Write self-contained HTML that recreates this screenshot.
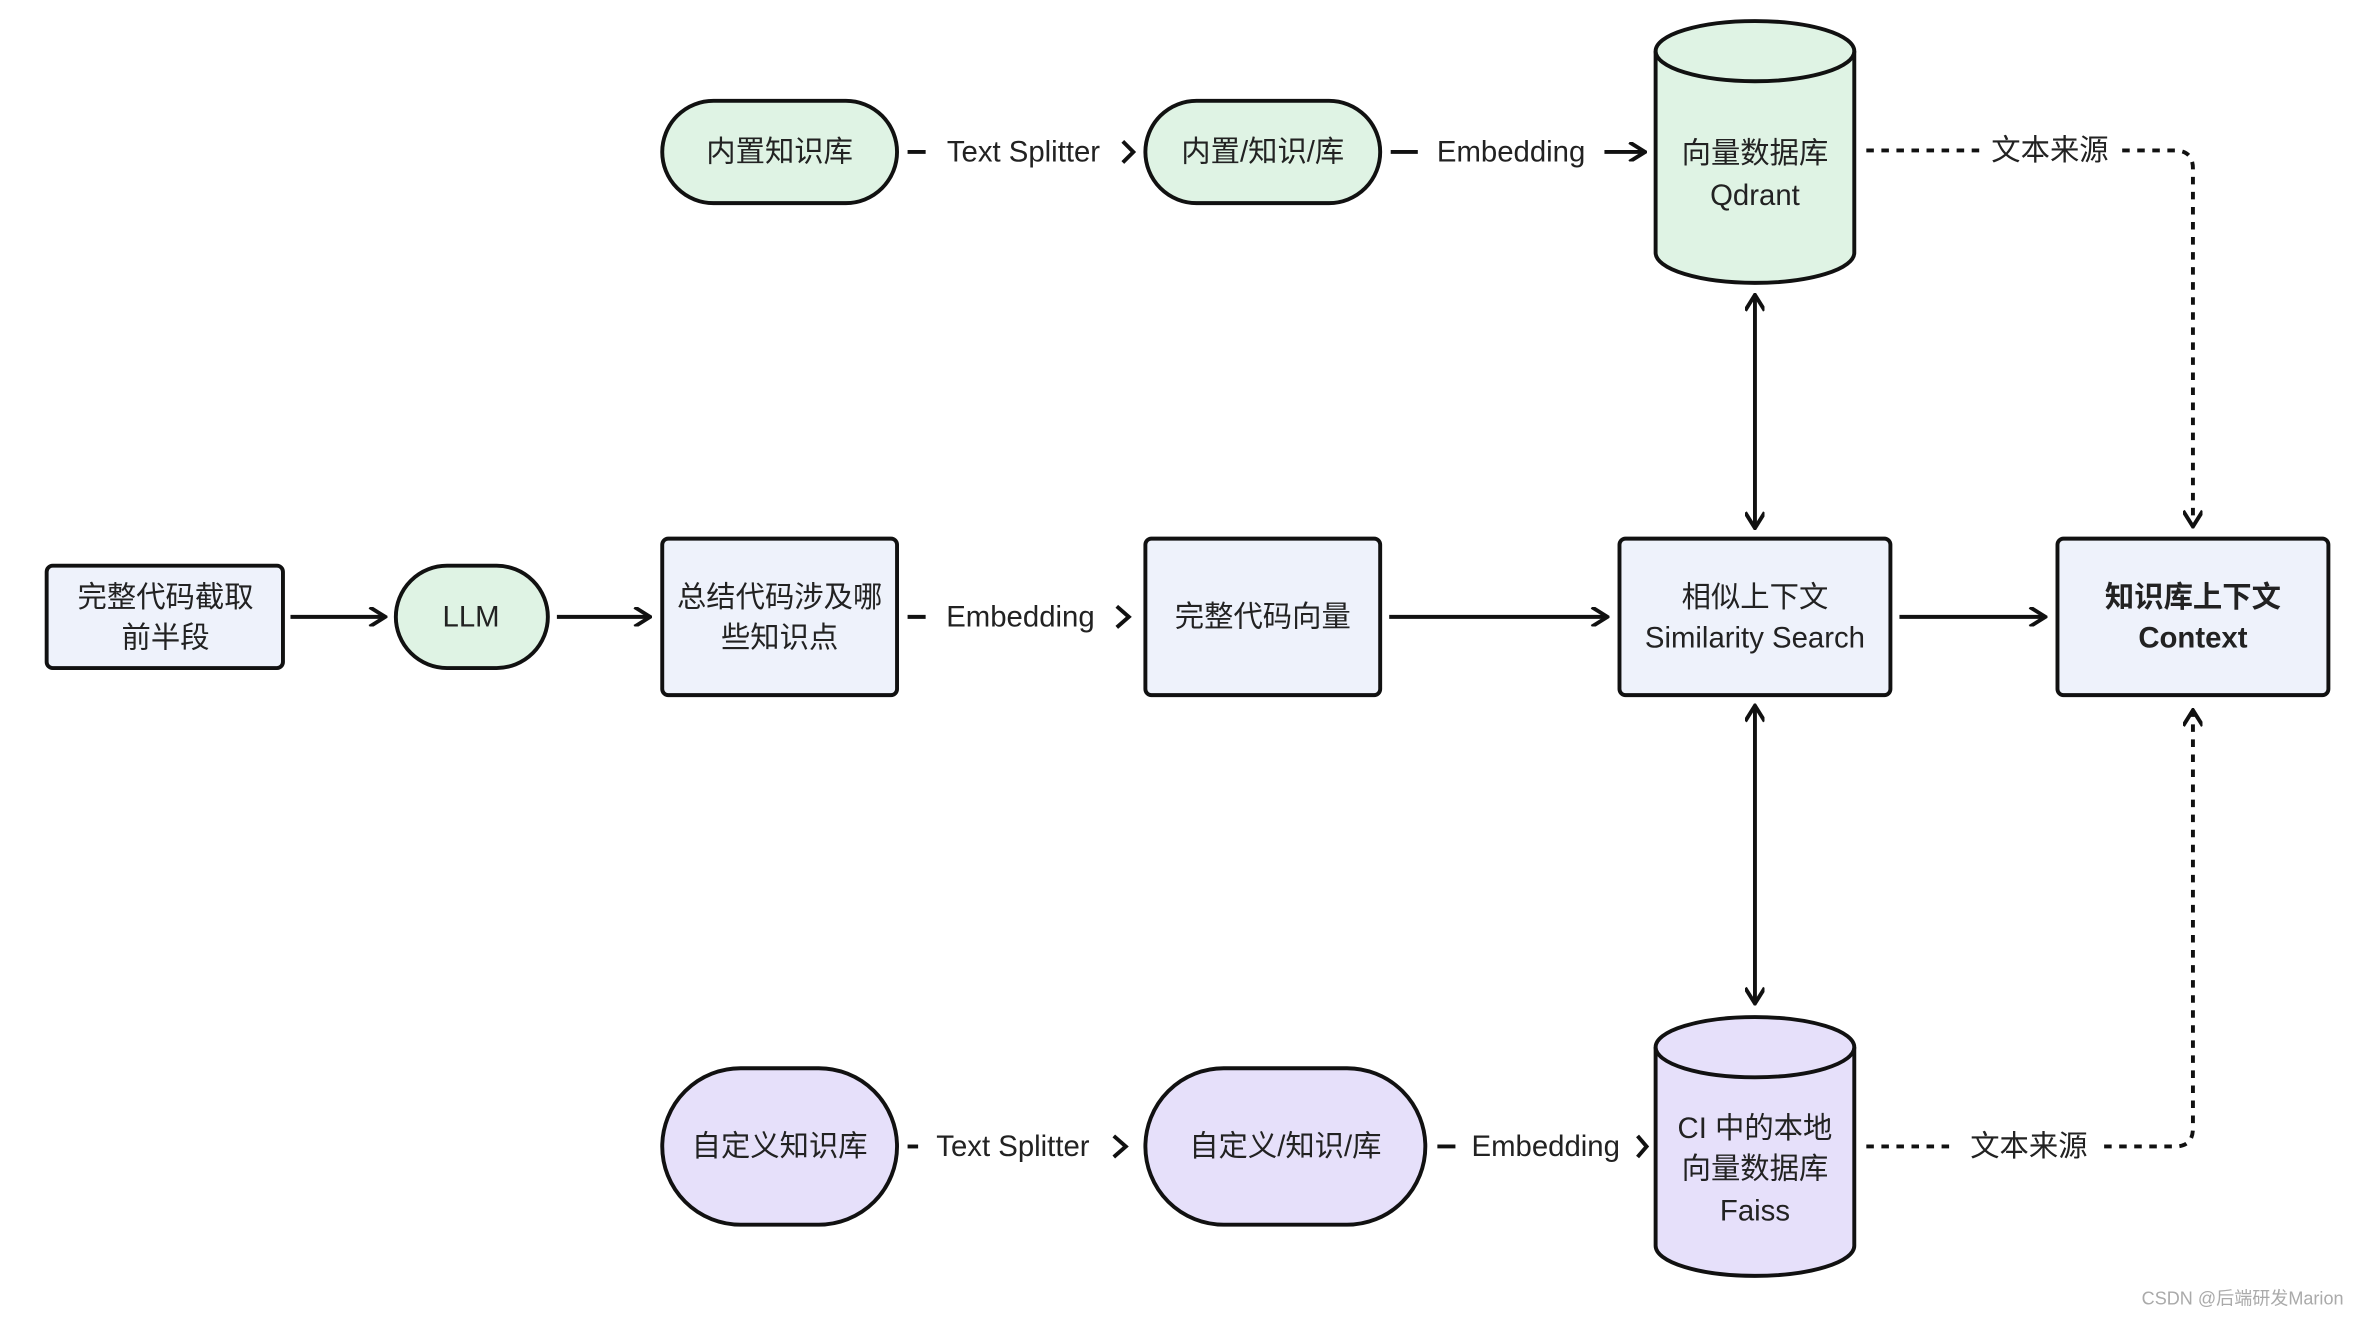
<!DOCTYPE html>
<html><head><meta charset="utf-8"><style>html,body{margin:0;padding:0;background:#fff}svg{display:block}text{font-family:"Liberation Sans","Noto Sans CJK SC",sans-serif;font-size:19.5px;fill:#222;text-anchor:middle;dominant-baseline:central}</style></head><body>
<svg width="2360" height="1318" viewBox="0 0 1568 876" preserveAspectRatio="none">
<defs><marker id="a" viewBox="0 0 10 10" refX="9" refY="5" markerWidth="5" markerHeight="5" orient="auto-start-reverse"><path d="M1 0 L9 5 L1 10" fill="none" stroke="#111" stroke-width="2"/></marker></defs>
<g stroke="#111" stroke-width="2.6" fill="none">
<rect x="440" y="67" width="156" height="68" rx="34" fill="#dff3e4"/>
<rect x="761" y="67" width="156" height="68" rx="34" fill="#dff3e4"/>
<path d="M1100 34 V168 A66 20 0 0 0 1232 168 V34" fill="#dff3e4"/>
<ellipse cx="1166" cy="34" rx="66" ry="20" fill="#dff3e4"/>
<line x1="603" y1="101" x2="615" y2="101"/>
<path d="M746 94 L753 101 L746 108"/>
<line x1="924" y1="101" x2="942" y2="101"/>
<line x1="1066" y1="101" x2="1093" y2="101" marker-end="url(#a)"/>
<path d="M1240 100 H1315 M1410 100 H1445 Q1457 100 1457 112 V350" stroke-dasharray="5 5" marker-end="url(#a)"/>
<rect x="31" y="376" width="157" height="68" rx="4" fill="#eef2fb"/>
<rect x="263" y="376" width="101" height="68" rx="34" fill="#dff3e4"/>
<rect x="440" y="358" width="156" height="104" rx="4" fill="#eef2fb"/>
<rect x="761" y="358" width="156" height="104" rx="4" fill="#eef2fb"/>
<rect x="1076" y="358" width="180" height="104" rx="4" fill="#eef2fb"/>
<rect x="1367" y="358" width="180" height="104" rx="4" fill="#eef2fb"/>
<line x1="193" y1="410" x2="256" y2="410" marker-end="url(#a)"/>
<line x1="370" y1="410" x2="432" y2="410" marker-end="url(#a)"/>
<line x1="603" y1="410" x2="615" y2="410"/>
<path d="M742 403 L750 410 L742 417"/>
<line x1="923" y1="410" x2="1068" y2="410" marker-end="url(#a)"/>
<line x1="1262" y1="410" x2="1359" y2="410" marker-end="url(#a)"/>
<line x1="1166" y1="196" x2="1166" y2="351" marker-start="url(#a)" marker-end="url(#a)"/>
<line x1="1166" y1="469" x2="1166" y2="667" marker-start="url(#a)" marker-end="url(#a)"/>
<rect x="440" y="710" width="156" height="104" rx="52" fill="#e6e0fa"/>
<rect x="761" y="710" width="186" height="104" rx="52" fill="#e6e0fa"/>
<path d="M1100 696 V828 A66 20 0 0 0 1232 828 V696" fill="#e6e0fa"/>
<ellipse cx="1166" cy="696" rx="66" ry="20" fill="#e6e0fa"/>
<line x1="603" y1="762" x2="610" y2="762"/>
<path d="M740 755 L748 762 L740 769"/>
<line x1="955" y1="762" x2="967" y2="762"/>
<path d="M1088 755 L1094 762 L1088 769"/>
<path d="M1240 762 H1297 M1398 762 H1445 Q1457 762 1457 750 V472" stroke-dasharray="5 5" marker-end="url(#a)"/>
</g>
<text x="518" y="101">内置知识库</text>
<text x="680" y="101">Text Splitter</text>
<text x="839" y="101">内置/知识/库</text>
<text x="1004" y="101">Embedding</text>
<text x="1166" y="102">向量数据库</text>
<text x="1166" y="130">Qdrant</text>
<text x="1362" y="100">文本来源</text>
<text x="110" y="397">完整代码截取</text>
<text x="110" y="424">前半段</text>
<text x="313" y="410">LLM</text>
<text x="518" y="397">总结代码涉及哪</text>
<text x="518" y="424">些知识点</text>
<text x="678" y="410">Embedding</text>
<text x="839" y="410">完整代码向量</text>
<text x="1166" y="397">相似上下文</text>
<text x="1166" y="424">Similarity Search</text>
<text x="1457" y="397" style="font-weight:bold">知识库上下文</text>
<text x="1457" y="424" style="font-weight:bold">Context</text>
<text x="518" y="762">自定义知识库</text>
<text x="673" y="762">Text Splitter</text>
<text x="854" y="762">自定义/知识/库</text>
<text x="1027" y="762">Embedding</text>
<text x="1166" y="750">CI 中的本地</text>
<text x="1166" y="777">向量数据库</text>
<text x="1166" y="805">Faiss</text>
<text x="1348" y="762">文本来源</text>
<text x="1490" y="863" style="font-size:12px;fill:#aaa">CSDN @后端研发Marion</text>
</svg>
</body></html>
